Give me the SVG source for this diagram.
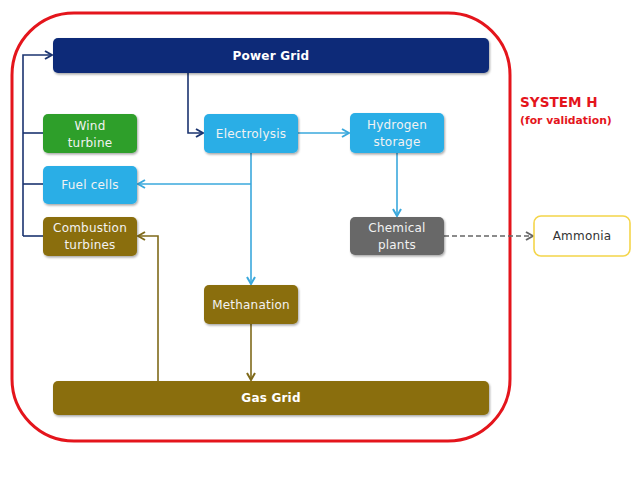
<svg xmlns="http://www.w3.org/2000/svg" width="638" height="479" viewBox="0 0 638 479">
<defs>
<filter id="sh" x="-10%" y="-10%" width="130%" height="140%">
<feDropShadow dx="1" dy="1.5" stdDeviation="1" flood-color="#000" flood-opacity="0.35"/>
</filter>
<marker id="aDark" viewBox="0 0 10 10" refX="9" refY="5" markerWidth="10" markerHeight="10" markerUnits="userSpaceOnUse" orient="auto"><polyline points="2,1 9,5 2,9" fill="none" stroke="#1b3470" stroke-width="2"/></marker>
<marker id="aBlue" viewBox="0 0 10 10" refX="9" refY="5" markerWidth="10" markerHeight="10" markerUnits="userSpaceOnUse" orient="auto"><polyline points="2,1 9,5 2,9" fill="none" stroke="#3aa8dc" stroke-width="2"/></marker>
<marker id="aOlive" viewBox="0 0 10 10" refX="9" refY="5" markerWidth="10" markerHeight="10" markerUnits="userSpaceOnUse" orient="auto"><polyline points="2,1 9,5 2,9" fill="none" stroke="#7f6a1a" stroke-width="2"/></marker>
<marker id="aGray" viewBox="0 0 10 10" refX="9" refY="5" markerWidth="10" markerHeight="10" markerUnits="userSpaceOnUse" orient="auto"><polyline points="2,1 9,5 2,9" fill="none" stroke="#666" stroke-width="2"/></marker>
</defs>
<style>
text{font-family:"DejaVu Sans","Liberation Sans",sans-serif;}
.box{filter:url(#sh);}
.lbl{font-size:12px;fill:#f2f2f2;text-anchor:middle;letter-spacing:0.2px;}
.bar{font-size:12px;font-weight:bold;fill:#fff;text-anchor:middle;letter-spacing:0.2px;}
.c{fill:none;stroke-width:1.6;}
.dk{stroke:#1b3470;}
.bl{stroke:#3aa8dc;}
.ol{stroke:#7f6a1a;}
.gy{stroke:#666;stroke-dasharray:5,3;}
</style>
<rect width="638" height="479" fill="#fff"/>
<g id="frame">
<rect x="12" y="13" width="498" height="428" rx="62" fill="none" stroke="#e4151c" stroke-width="3"/>
<text x="520" y="107" font-size="13.6px" font-weight="bold" fill="#e4151c">SYSTEM H</text>
<text x="520" y="124" font-size="10.8px" font-weight="bold" fill="#e4151c">(for validation)</text>
</g>
<g id="connectors">
<polyline class="c dk" points="23,236 23,55 52,55" marker-end="url(#aDark)"/>
<line class="c dk" x1="23" y1="133" x2="43" y2="133"/>
<line class="c dk" x1="23" y1="184" x2="43" y2="184"/>
<line class="c dk" x1="23" y1="236" x2="43" y2="236"/>
<polyline class="c dk" points="188,73 188,133 203,133" marker-end="url(#aDark)"/>
<line class="c bl" x1="298" y1="133" x2="349" y2="133" marker-end="url(#aBlue)"/>
<line class="c bl" x1="251" y1="153" x2="251" y2="284" marker-end="url(#aBlue)"/>
<line class="c bl" x1="251" y1="184" x2="138" y2="184" marker-end="url(#aBlue)"/>
<line class="c bl" x1="397" y1="153" x2="397" y2="216" marker-end="url(#aBlue)"/>
<line class="c gy" x1="444" y1="236" x2="533" y2="236" marker-end="url(#aGray)"/>
<line class="c ol" x1="251" y1="324" x2="251" y2="380" marker-end="url(#aOlive)"/>
<polyline class="c ol" points="158,381 158,236 138,236" marker-end="url(#aOlive)"/>
</g>
<g id="power-grid">
<rect class="box" x="53" y="38" width="436" height="35" rx="5" fill="#0c2c78"/>
<text class="bar" x="271" y="60">Power Grid</text>
</g>
<g id="wind-turbine">
<rect class="box" x="43" y="114" width="94" height="39" rx="5" fill="#2f9f2c"/>
<text class="lbl" x="90" y="130">Wind</text>
<text class="lbl" x="90" y="147">turbine</text>
</g>
<g id="fuel-cells">
<rect class="box" x="43" y="166" width="94" height="38" rx="5" fill="#2aaee6"/>
<text class="lbl" x="90" y="189">Fuel cells</text>
</g>
<g id="combustion-turbines">
<rect class="box" x="43" y="217" width="94" height="39" rx="5" fill="#8a6e0c"/>
<text class="lbl" x="90" y="232">Combustion</text>
<text class="lbl" x="90" y="249">turbines</text>
</g>
<g id="electrolysis">
<rect class="box" x="204" y="114" width="94" height="39" rx="5" fill="#2aaee6"/>
<text class="lbl" x="251" y="138">Electrolysis</text>
</g>
<g id="hydrogen-storage">
<rect class="box" x="350" y="113" width="94" height="40" rx="5" fill="#2aaee6"/>
<text class="lbl" x="397" y="129">Hydrogen</text>
<text class="lbl" x="397" y="146">storage</text>
</g>
<g id="chemical-plants">
<rect class="box" x="350" y="217" width="94" height="38" rx="5" fill="#686868"/>
<text class="lbl" x="397" y="232">Chemical</text>
<text class="lbl" x="397" y="249">plants</text>
</g>
<g id="ammonia">
<rect x="534" y="216" width="96" height="40" rx="7" fill="#fff" stroke="#f4d54a" stroke-width="1.6"/>
<text x="582" y="240" font-size="12px" fill="#333" text-anchor="middle" letter-spacing="0.2px">Ammonia</text>
</g>
<g id="methanation">
<rect class="box" x="204" y="285" width="94" height="39" rx="5" fill="#8a6e0c"/>
<text class="lbl" x="251" y="309">Methanation</text>
</g>
<g id="gas-grid">
<rect class="box" x="53" y="381" width="436" height="34" rx="5" fill="#8a6e0c"/>
<text class="bar" x="271" y="402">Gas Grid</text>
</g>
</svg>
